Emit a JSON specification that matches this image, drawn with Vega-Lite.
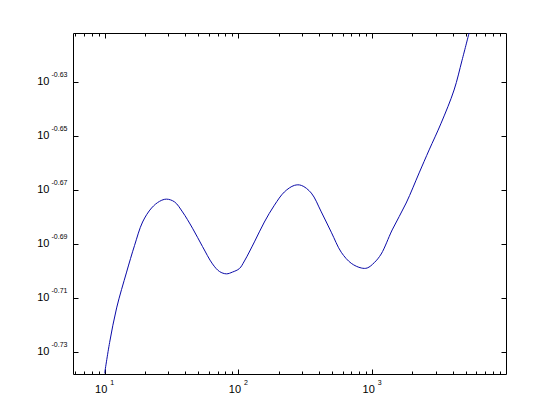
{
  "$schema": "https://vega.github.io/schema/vega-lite/v6.json",
  "width": 433,
  "height": 341,
  "autosize": {"type": "none"},
  "padding": {"left": 73, "top": 33, "right": 54, "bottom": 46},
  "background": "white",
  "config": {
    "view": {"stroke": null},
    "axis": {"grid": false, "title": null, "labelFont": "Liberation Sans", "labelColor": "black", "labelFlush": false, "labelOverlap": false, "domain": false, "ticks": false, "labels": false}
  },
  "data": {
    "values": [
      {"x": 10.0, "y": 0.1829}, {"x": 10.9, "y": 0.1878}, {"x": 12.29, "y": 0.1934}, {"x": 14.59, "y": 0.1994},
      {"x": 16.74, "y": 0.204}, {"x": 19.21, "y": 0.2081}, {"x": 22.42, "y": 0.2106}, {"x": 25.73, "y": 0.2118},
      {"x": 29.01, "y": 0.2122}, {"x": 33.3, "y": 0.2117}, {"x": 38.2, "y": 0.2099}, {"x": 45.37, "y": 0.207},
      {"x": 53.86, "y": 0.2038}, {"x": 63.97, "y": 0.2008}, {"x": 72.15, "y": 0.1995}, {"x": 81.37, "y": 0.1991},
      {"x": 90.21, "y": 0.1994}, {"x": 101.7, "y": 0.2000}, {"x": 110.9, "y": 0.2013}, {"x": 131.7, "y": 0.2046},
      {"x": 156.3, "y": 0.2081}, {"x": 185.7, "y": 0.2111}, {"x": 220.4, "y": 0.2135}, {"x": 261.8, "y": 0.2147},
      {"x": 295.3, "y": 0.2147}, {"x": 350.6, "y": 0.2133}, {"x": 416.3, "y": 0.2099}, {"x": 494.3, "y": 0.2063},
      {"x": 587.0, "y": 0.2028}, {"x": 697.0, "y": 0.2009}, {"x": 828.0, "y": 0.2001}, {"x": 917.7, "y": 0.2001},
      {"x": 1035, "y": 0.2010}, {"x": 1167, "y": 0.2025}, {"x": 1410, "y": 0.2067}, {"x": 1794, "y": 0.2115},
      {"x": 2243, "y": 0.217}, {"x": 2664, "y": 0.2213}, {"x": 3273, "y": 0.2264}, {"x": 4091, "y": 0.2329},
      {"x": 4695, "y": 0.2389}, {"x": 5296, "y": 0.2445}
    ]
  },
  "resolve": {"scale": {"x": "independent", "y": "independent"}},
  "layer": [
    {
      "mark": {"type": "line", "color": "#0a0aa8", "strokeWidth": 1, "clip": true, "interpolate": "catmull-rom"},
      "encoding": {
        "x": {"field": "x", "type": "quantitative", "scale": {"type": "log", "domain": [5.8, 10000], "nice": false},
          "axis": {"orient": "bottom", "values": [10, 100, 1000], "labels": true, "labelExpr": "'10'", "labelFontSize": 11, "labelAlign": "center", "labelBaseline": "top", "labelOffset": -4, "labelPadding": 9}},
        "y": {"field": "y", "type": "quantitative", "scale": {"type": "log", "domain": [0.1828, 0.2445], "nice": false, "zero": false},
          "axis": {"orient": "left", "values": [0.186209, 0.194984, 0.204174, 0.213796, 0.223872, 0.234423], "labels": true, "labelExpr": "'10'", "labelFontSize": 11, "labelAlign": "right", "labelBaseline": "middle", "labelOffset": -1, "labelPadding": 24}}
      }
    },
    {
      "mark": {"type": "line", "opacity": 0},
      "encoding": {
        "x": {"field": "x", "type": "quantitative", "scale": {"type": "log", "domain": [5.8, 10000], "nice": false},
          "axis": {"orient": "bottom", "values": [10, 100, 1000], "labels": true, "labelExpr": "format(round(log(datum.value)/LN10), 'd')", "labelFontSize": 7, "labelAlign": "left", "labelBaseline": "top", "labelOffset": 5, "labelPadding": 4}},
        "y": {"field": "y", "type": "quantitative", "scale": {"type": "log", "domain": [0.1828, 0.2445], "nice": false, "zero": false},
          "axis": {"orient": "left", "values": [0.186209, 0.194984, 0.204174, 0.213796, 0.223872, 0.234423], "labels": true, "labelExpr": "'-0.' + format(round(-100*log(datum.value)/LN10), 'd')", "labelFontSize": 7, "labelAlign": "right", "labelBaseline": "middle", "labelOffset": -7.5, "labelPadding": 6}}
      }
    },
    {
      "mark": {"type": "line", "opacity": 0},
      "encoding": {
        "x": {"field": "x", "type": "quantitative", "scale": {"type": "log", "domain": [5.8, 10000], "nice": false},
          "axis": {"orient": "bottom", "values": [6, 7, 8, 9, 10, 20, 30, 40, 50, 60, 70, 80, 90, 100, 200, 300, 400, 500, 600, 700, 800, 900, 1000, 2000, 3000, 4000, 5000, 6000, 7000, 8000, 9000],
            "domain": true, "domainColor": "black", "domainWidth": 1, "ticks": true, "tickColor": "black", "tickWidth": 1,
            "tickSize": {"condition": {"test": "datum.value == 10 || datum.value == 100 || datum.value == 1000", "value": -5}, "value": -3}}},
        "y": {"field": "y", "type": "quantitative", "scale": {"type": "log", "domain": [0.1828, 0.2445], "nice": false, "zero": false},
          "axis": {"orient": "left", "values": [0.186209, 0.194984, 0.204174, 0.213796, 0.223872, 0.234423],
            "domain": true, "domainColor": "black", "domainWidth": 1, "ticks": true, "tickColor": "black", "tickWidth": 1, "tickSize": -5}}
      }
    },
    {
      "mark": {"type": "line", "opacity": 0},
      "encoding": {
        "x": {"field": "x", "type": "quantitative", "scale": {"type": "log", "domain": [5.8, 10000], "nice": false},
          "axis": {"orient": "top", "values": [6, 7, 8, 9, 10, 20, 30, 40, 50, 60, 70, 80, 90, 100, 200, 300, 400, 500, 600, 700, 800, 900, 1000, 2000, 3000, 4000, 5000, 6000, 7000, 8000, 9000],
            "domain": true, "domainColor": "black", "domainWidth": 1, "ticks": true, "tickColor": "black", "tickWidth": 1,
            "tickSize": {"condition": {"test": "datum.value == 10 || datum.value == 100 || datum.value == 1000", "value": -5}, "value": -3}}},
        "y": {"field": "y", "type": "quantitative", "scale": {"type": "log", "domain": [0.1828, 0.2445], "nice": false, "zero": false},
          "axis": {"orient": "right", "values": [0.186209, 0.194984, 0.204174, 0.213796, 0.223872, 0.234423],
            "domain": true, "domainColor": "black", "domainWidth": 1, "ticks": true, "tickColor": "black", "tickWidth": 1, "tickSize": -5}}
      }
    }
  ]
}
